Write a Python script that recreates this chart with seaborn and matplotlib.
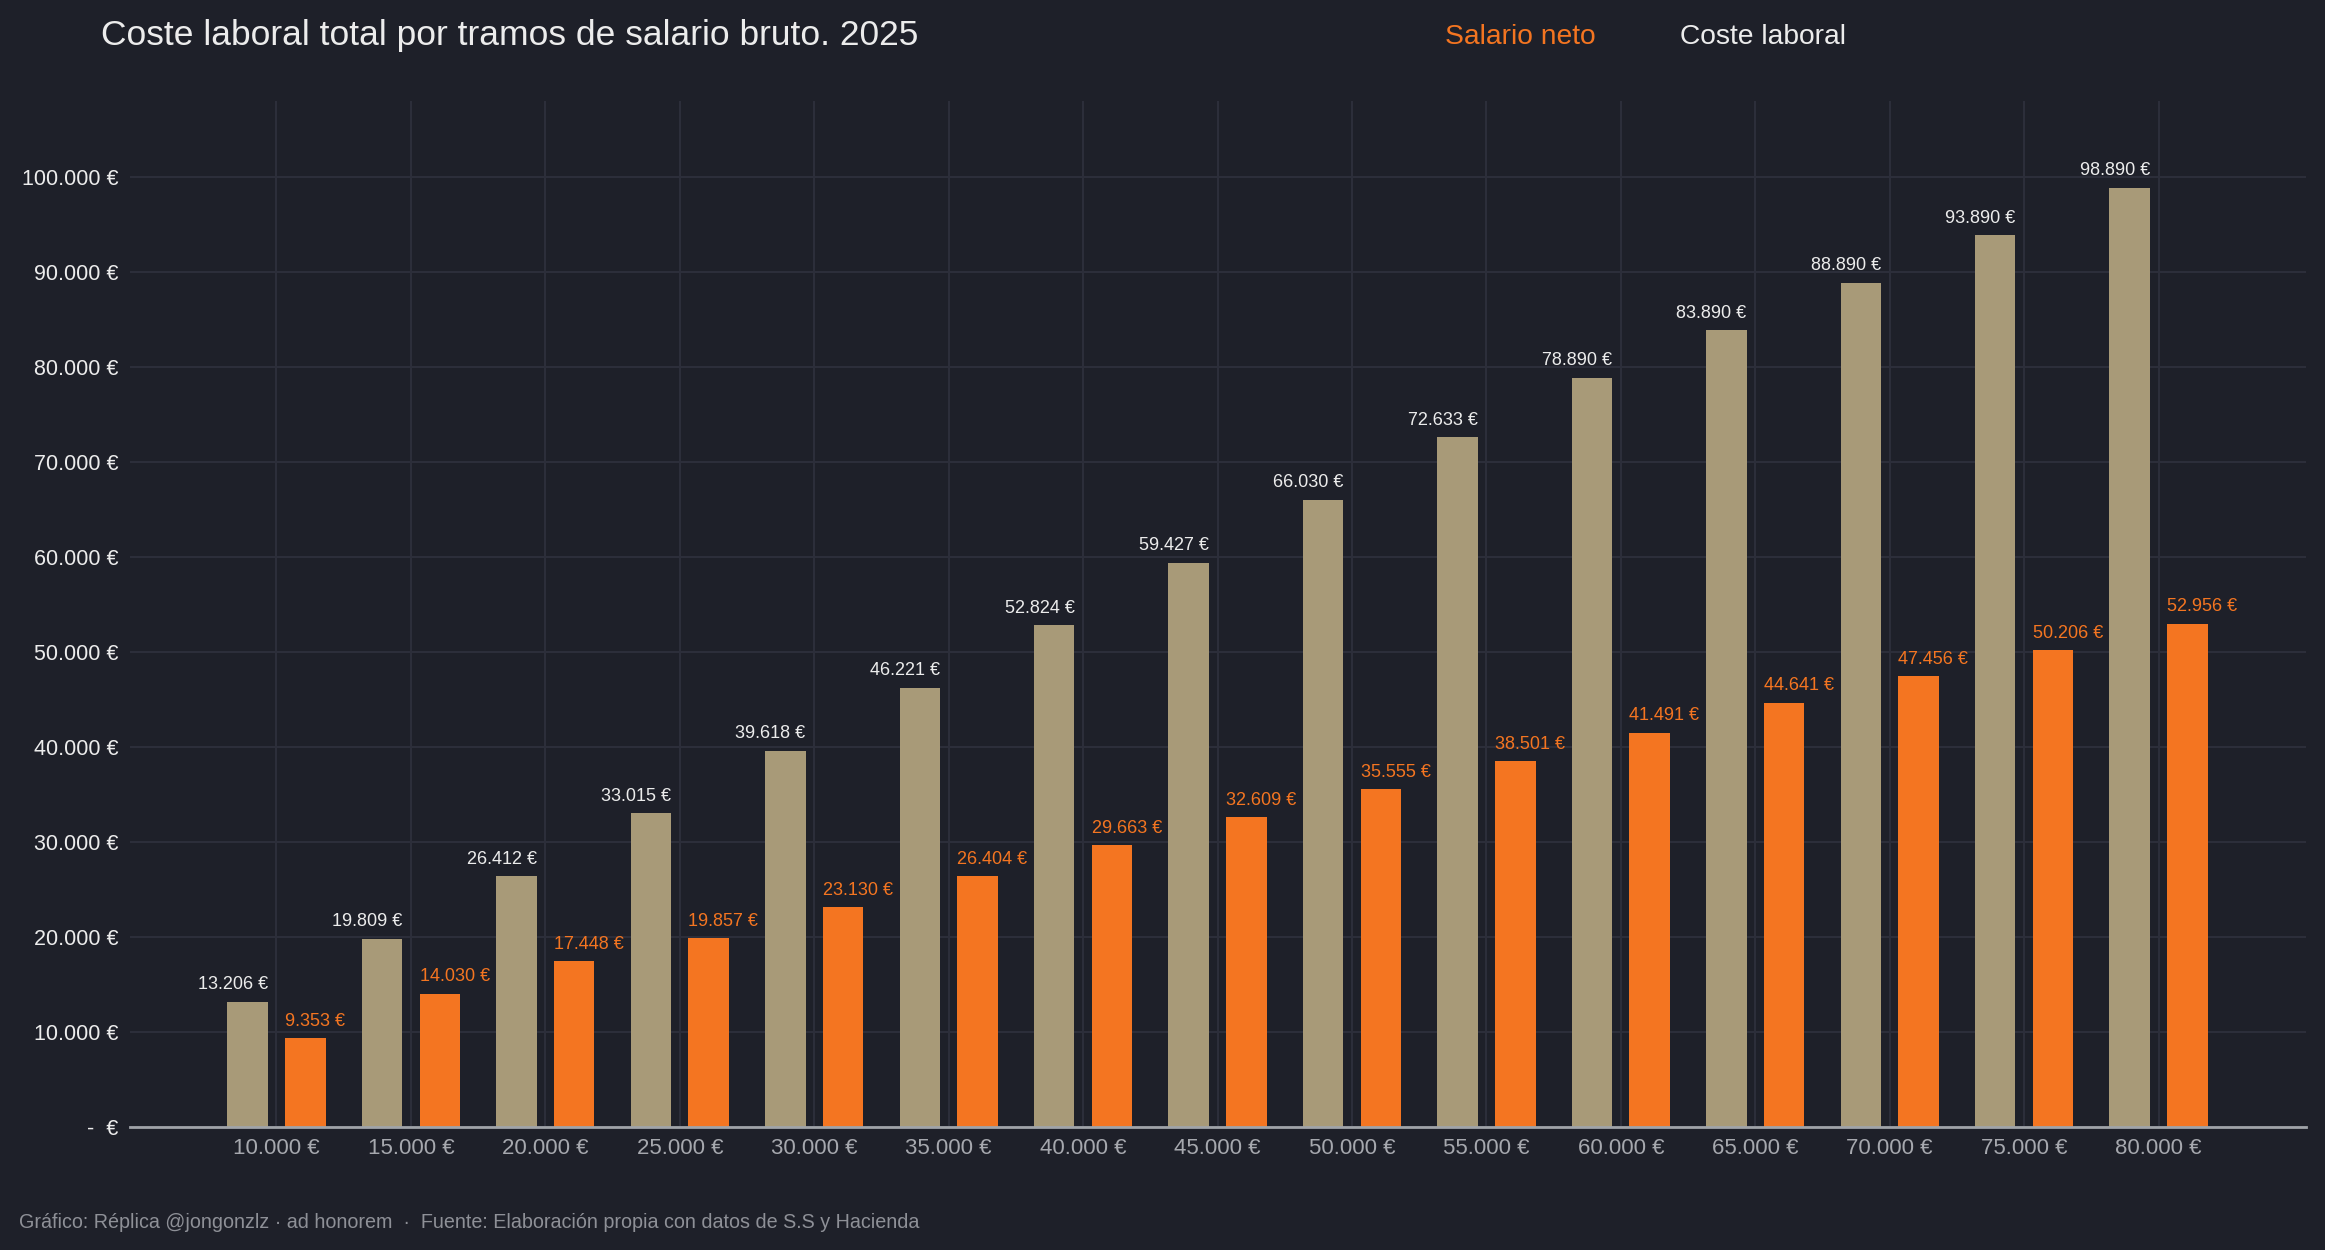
import matplotlib
matplotlib.use('Agg')
import matplotlib.pyplot as plt
import numpy as np
import pandas as pd
import seaborn as sns

# datos
tramos = [10000, 15000, 20000, 25000, 30000, 35000, 40000, 45000,
          50000, 55000, 60000, 65000, 70000, 75000, 80000]
coste_laboral = [13206, 19809, 26412, 33015, 39618, 46221, 52824, 59427,
                 66030, 72633, 78890, 83890, 88890, 93890, 98890]
salario_neto = [9353, 14030, 17448, 19857, 23130, 26404, 29663, 32609,
                35555, 38501, 41491, 44641, 47456, 50206, 52956]
y_ticks = list(range(0, 100001, 10000))


def eur(v):
    if v == 0:
        return '-  €'
    return f'{v:,.0f}'.replace(',', '.') + ' €'


tramo_lab = [eur(t) for t in tramos]
df = pd.concat([
    pd.DataFrame({'tramo': tramo_lab, 'serie': 'Coste laboral', 'valor': coste_laboral}),
    pd.DataFrame({'tramo': tramo_lab, 'serie': 'Salario neto', 'valor': salario_neto}),
])

BG = '#1e2029'
GRID = '#2c2e3a'
BEIGE = '#a89a78'
ORANGE = '#f47521'
WHITE = '#ececec'
GREY = '#a6a8ae'

sns.set_style('dark')
plt.rcParams['font.family'] = ['Liberation Sans', 'DejaVu Sans']

fig = plt.figure(figsize=(23.25, 12.5), dpi=100, facecolor=BG)
ax = fig.add_axes([0.0559, 0.0984, 0.9361, 0.8206])
ax.set_facecolor(BG)

sns.barplot(data=df, x='tramo', y='valor', hue='serie',
            hue_order=['Coste laboral', 'Salario neto'],
            palette={'Coste laboral': BEIGE, 'Salario neto': ORANGE},
            width=0.86, gap=0.3, saturation=1, legend=False,
            linewidth=0, edgecolor='none', ax=ax)

# etiquetas de valor
for cont, col, side in zip(ax.containers, [WHITE, ORANGE], ['right', 'left']):
    for p in cont.patches:
        h = p.get_height()
        x = p.get_x() + p.get_width() if side == 'right' else p.get_x()
        ax.text(x, h + 900, eur(h), ha=side, va='bottom', color=col, fontsize=13)

ax.set_ylim(0, 108000)
ax.set_xlim(-1.09, 15.1)
ax.set_yticks(y_ticks)
ax.set_yticklabels([eur(v) for v in y_ticks], color=WHITE, fontsize=15.5)
ax.tick_params(axis='x', colors=GREY, labelsize=16, length=0, pad=8)
ax.tick_params(axis='y', length=0, pad=8)
ax.set_xlabel('')
ax.set_ylabel('')
ax.grid(True, color=GRID, linewidth=1.5)
ax.set_axisbelow(True)
for s in ['top', 'right', 'left']:
    ax.spines[s].set_visible(False)
ax.spines['bottom'].set_color('#a0a3a8')
ax.spines['bottom'].set_linewidth(2)

fig.text(101 / 2325, 1 - 45 / 1250, 'Coste laboral total por tramos de salario bruto. 2025',
         color=WHITE, fontsize=25.5, va='baseline', ha='left')
fig.text(1445 / 2325, 1 - 44 / 1250, 'Salario neto', color=ORANGE, fontsize=20.3,
         va='baseline', ha='left')
fig.text(1680 / 2325, 1 - 44 / 1250, 'Coste laboral', color=WHITE, fontsize=20.3,
         va='baseline', ha='left')
fig.text(19 / 2325, 1 - 1228 / 1250,
         'Gráfico: Réplica @jongonzlz · ad honorem  ·  Fuente: Elaboración propia con datos de S.S y Hacienda',
         color='#8e9097', fontsize=14.2, va='baseline', ha='left')

fig.savefig('out.png', dpi=100, facecolor=BG)
